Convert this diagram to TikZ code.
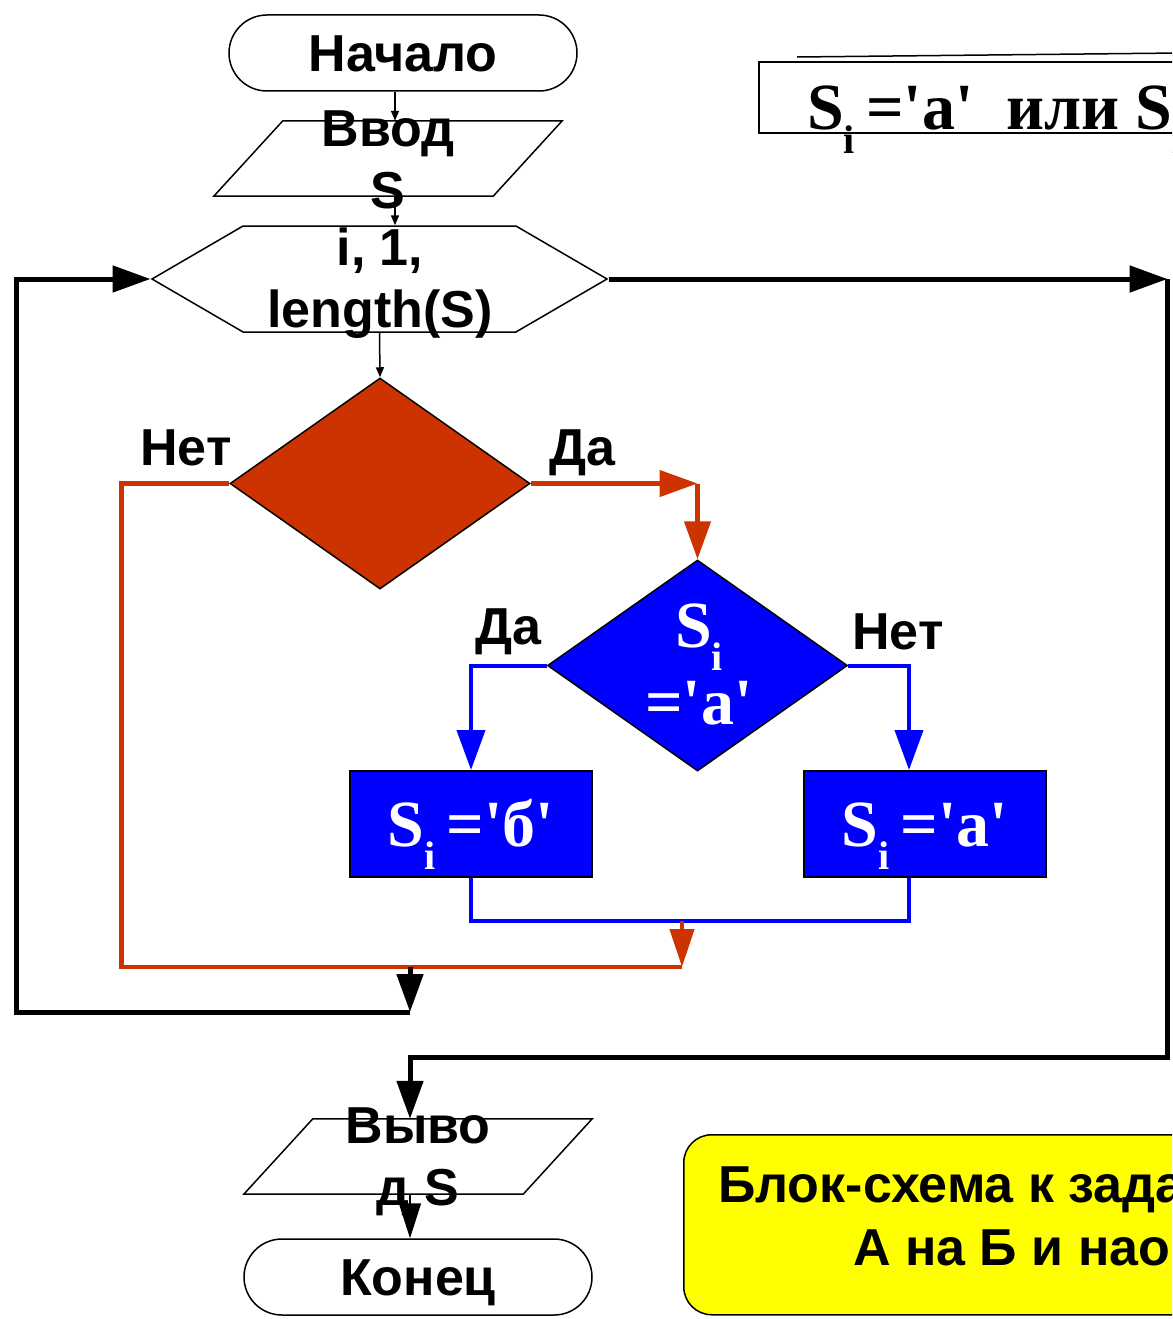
\documentclass[tikz,border=0pt]{standalone}
\usepackage{fontspec}
\setmainfont{Liberation Sans}
\newfontfamily\romanb{Liberation Serif}
\usetikzlibrary{arrows.meta, shapes.geometric, shapes.symbols, calc}
\definecolor{blockred}{HTML}{CC3300}
\definecolor{blockblue}{HTML}{0000FF}
\definecolor{noteyellow}{HTML}{FFFF00}
\newcommand{\sidx}{\raisebox{-0.35em}{\fontsize{40}{40}\selectfont i}}
\newcommand{\qt}{\textquotesingle}
% slanted input/output frame round an io node
\newcommand{\ioframe}[1]{\draw[outline] ($(#1.north west)+(69,0)$) -- (#1.north east)
    -- ($(#1.south east)+(-69,0)$) -- (#1.south west) -- cycle;}

\begin{document}
\begin{tikzpicture}[x=1pt, y=-1pt,
    big/.style={font=\fontsize{52}{62}\selectfont\bfseries, inner sep=2pt},
    roman/.style={font=\fontsize{66}{77}\selectfont\romanb\bfseries, inner sep=0pt},
    outline/.style={draw=black, line width=1.5pt},
    term/.style={outline, rectangle, rounded corners=38pt, minimum width=348pt,
                 minimum height=76pt, inner sep=0pt, big, text height=37pt, text depth=0pt},
    io/.style={rectangle, minimum width=348pt, minimum height=75pt, inner sep=0pt},
    loopbox/.style={outline, signal, signal to=west and east, signal pointer angle=60.4,
                    minimum width=455pt, minimum height=106pt, inner sep=0pt},
    cond/.style={outline, diamond, minimum width=300pt, minimum height=211pt, inner sep=0pt},
    act/.style={rectangle, draw=black, line width=2pt, fill=blockblue, minimum width=242pt,
                minimum height=106pt, inner sep=0pt, roman, text=white, text height=45pt, text depth=0pt},
    lbl/.style={big, text=black, text depth=0pt},
    thin arrow/.style={-{Triangle[length=10pt, width=8pt]}, line width=1.5pt},
    heavy/.style={line width=5pt},
    heavy arrow/.style={heavy, -{Triangle[length=38pt, width=26pt]}},
    redline/.style={line width=4.5pt, color=blockred},
    red arrow/.style={redline, -{Triangle[length=38pt, width=26pt]}},
    blueline/.style={line width=4pt, color=blockblue},
    blue arrow/.style={blueline, -{Triangle[length=40pt, width=28pt]}}
]
\useasboundingbox (0,0) rectangle (1172,1319);
\clip (0,0) rectangle (1172,1319);

%% main column
\node[term] (start) at (403,53) {Начало};
\node[io] (inp) at (388,158.5) {};
\ioframe{inp}
\node[big, align=center] (inptext) at (388,160) {Ввод\\S};
\node[loopbox] (loop) at (379.5,279) {};
\node[big, align=center] (looptext) at (380,283) {i, 1,\\length(S)};
\node[cond, fill=blockred] (chk) at (380,483.5) {};
\node[cond, fill=blockblue] (isa) at (697.5,665.5) {};
\node[roman, text=white, align=center] (isatext) at (699,664) {S\sidx\\=\qt a\qt};
\node[act] (setb) at (471,824) {S\sidx\,=\qt б\qt};
\node[act] (seta) at (925,824) {S\sidx\,=\qt a\qt};
\node[io] (out) at (418,1156.5) {};
\ioframe{out}
\node[big, align=center] (outtext) at (418,1162) {Выво\\д S};
\node[term] (fin) at (418,1277) {Конец};

%% side notes
\node[outline, line width=2pt, anchor=north west, minimum width=460pt, minimum height=71pt] (rule) at (758,61) {};
\draw[line width=1.5pt] (797,57) -- (1180,53);
\node[roman, anchor=base west] (ruletext) at (807,130) {S\sidx\,=\qt a\qt~ или S\sidx};
\node[outline, fill=noteyellow, rounded corners=28pt, anchor=north west,
      minimum width=560pt, minimum height=180pt] (note) at (683,1134) {};
\node[big, anchor=base west] (noteone) at (716,1202) {Блок-схема к зада};
\node[big, anchor=base west] (notetwo) at (851,1265) {А на Б и нао};

\coordinate (join) at (682,921);
\coordinate (merge) at (682,967);
\coordinate (tail) at (410,967);
\coordinate (loopend) at (410,1012);

%% thin links
\draw[thin arrow] ([xshift=-8pt]start.south) -- ([xshift=-8pt]start.south |- inp.north);
\draw[thin arrow] ([xshift=7pt]inp.south) -- ([xshift=7pt]inp.south |- loop.north);
\draw[thin arrow] (loop.south) -- (chk.north);

%% outer check
\draw[red arrow] (chk.east) -- (chk.east -| isa.north) node[pos=0.31, above=14pt, lbl] {Да};
\draw[red arrow] (chk.east -| isa.north) -- (isa.north);
\draw[redline] (chk.west) -- ++(-108,0) node[pos=0.4, above=14pt, lbl] {Нет} |- (merge);

%% inner check
\draw[blue arrow] (isa.west) -| (setb.north) node[pos=0.25, above=17pt, lbl] {Да};
\draw[blue arrow] (isa.east) -| ([xshift=-16pt]seta.north) node[pos=0.41, above=12pt, lbl] {Нет};
\draw[blueline] (setb.south) -- (setb.south |- join) -| ([xshift=-16pt]seta.south);
\draw[red arrow, -{Triangle[length=38pt, width=24pt]}] (join) -- (merge);

%% loop back and exit
\draw[heavy arrow] (tail) -- (loopend);
\draw[heavy arrow] (loopend) -| ([xshift=-134pt]loop.west) -- (loop.west);
\draw[heavy arrow] (loop.east) -- ++(559,0) coordinate (exit);
\draw[heavy arrow] (exit) -- ++(0,778) -| ([xshift=-8pt]out.north);
\draw[line width=1.5pt, -{Triangle[length=35pt, width=22pt]}]
    ([xshift=-8pt]out.south) -- ([xshift=-8pt]out.south |- fin.north);
\end{tikzpicture}
\end{document}
